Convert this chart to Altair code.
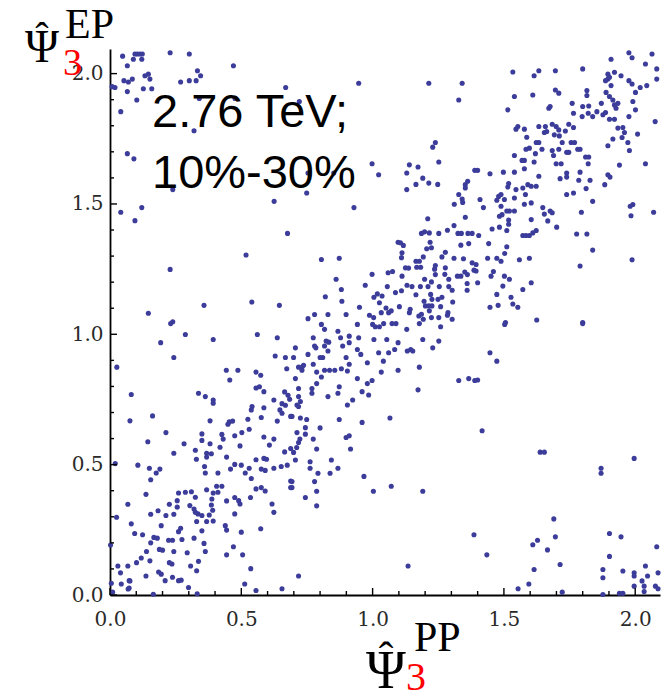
import altair as alt
import pandas as pd

# Values (Psi3 PP on x, Psi3 EP on y)
top_left = [
    (0.048, 2.067), (0.066, 2.030), (0.095, 2.075), (0.104, 2.075), (0.114, 2.075), (0.123, 2.075),
    (0.089, 2.055), (0.121, 2.055), (0.229, 2.080), (0.302, 2.075), (0.470, 2.030), (0.333, 2.011),
    (0.345, 1.992), (0.328, 1.973), (0.302, 1.973), (0.269, 1.968), (0.053, 1.973), (0.070, 1.968),
    (0.085, 1.979), (0.133, 1.992), (0.146, 1.998), (0.152, 1.979), (0.019, 1.947), (0.066, 1.931),
    (0.127, 1.942), (0.159, 1.942), (0.102, 1.899), (0.340, 1.905), (0.476, 1.905), (0.669, 1.947),
    (0.041, 1.854), (0.320, 1.781), (0.066, 1.693), (0.091, 1.673), (0.239, 1.555), (0.625, 1.510),
    (0.041, 1.468), (0.121, 1.486), (0.095, 1.436), (0.676, 1.387), (0.518, 1.304), (0.229, 1.249),
    (0.358, 1.111), (0.540, 1.124), (0.645, 1.111), (0.146, 1.081), (0.239, 1.048), (0.008, 1.950),
]

top_mid = [
    (0.947, 1.963), (1.214, 1.963), (1.341, 1.963), (1.328, 1.899), (0.721, 1.893), (1.239, 1.736),
    (1.229, 1.718), (1.252, 1.661), (0.998, 1.654), (1.023, 1.612), (1.140, 1.650), (1.173, 1.642),
    (1.130, 1.619), (1.191, 1.599), (1.165, 1.575), (1.214, 1.580), (1.248, 1.575), (1.130, 1.555),
    (0.754, 1.619), (0.852, 1.619), (0.749, 1.542), (0.929, 1.486), (1.362, 1.587), (1.353, 1.574),
    (1.353, 1.561), (1.328, 1.536), (1.341, 1.519), (1.343, 1.506), (1.311, 1.499), (1.389, 1.629),
    (1.210, 1.443), (1.353, 1.449), (1.310, 1.417), (1.285, 1.399), (1.252, 1.387), (1.216, 1.389),
    (1.198, 1.393), (1.186, 1.387), (1.325, 1.387), (1.338, 1.387), (1.363, 1.387), (1.379, 1.387),
    (1.097, 1.353), (1.106, 1.351), (1.117, 1.341), (1.219, 1.353), (1.336, 1.342), (1.366, 1.348),
    (0.805, 1.287), (0.873, 1.292), (1.112, 1.313), (1.110, 1.294), (1.206, 1.328), (1.224, 1.332),
    (1.193, 1.297), (1.165, 1.280), (1.178, 1.280), (1.277, 1.315), (1.264, 1.297), (1.310, 1.292),
    (1.346, 1.290), (1.379, 1.274), (0.861, 1.211), (0.998, 1.230), (1.059, 1.236), (1.076, 1.241),
    (1.112, 1.223), (1.125, 1.255), (1.137, 1.254), (1.168, 1.257), (1.183, 1.257), (1.198, 1.211),
    (1.239, 1.264), (1.239, 1.229), (1.236, 1.250), (1.277, 1.255), (1.275, 1.230), (1.290, 1.211),
    (1.323, 1.223), (1.336, 1.223), (1.351, 1.239), (1.361, 1.229), (1.386, 1.246), (0.972, 1.188),
    (0.881, 1.172), (1.056, 1.183), (1.087, 1.160), (1.110, 1.167), (1.131, 1.188), (1.150, 1.183),
    (1.165, 1.152), (1.182, 1.183), (1.211, 1.183), (1.224, 1.201), (1.221, 1.153), (1.254, 1.183),
    (1.264, 1.142), (1.290, 1.183), (1.303, 1.169), (1.360, 1.195), (1.360, 1.169), (0.820, 1.144),
    (0.883, 1.127), (0.950, 1.104), (1.005, 1.142), (1.018, 1.155), (1.036, 1.147), (1.026, 1.121),
    (1.051, 1.101), (1.033, 1.083), (1.061, 1.083), (1.071, 1.090), (1.102, 1.106), (1.143, 1.096),
    (1.140, 1.083), (1.196, 1.127), (1.201, 1.109), (1.214, 1.109), (1.226, 1.109), (1.216, 1.090),
    (1.226, 1.134), (1.249, 1.134), (1.259, 1.106), (1.305, 1.124), (1.287, 1.083), (0.754, 1.060),
    (0.779, 1.076), (0.830, 1.076), (0.899, 1.076), (0.988, 1.073), (1.004, 1.064), (1.176, 1.070),
    (1.186, 1.077), (1.193, 1.058), (1.224, 1.064), (1.252, 1.064), (1.285, 1.073), (1.303, 1.058),
]

top_right = [
    (1.976, 2.080), (1.988, 2.061), (2.064, 2.075), (1.908, 2.055), (2.039, 2.037), (2.082, 2.018),
    (2.082, 1.979), (1.534, 2.006), (1.633, 2.011), (1.615, 1.992), (1.696, 2.011), (1.800, 2.018),
    (1.896, 1.998), (1.896, 1.979), (1.887, 1.973), (1.902, 1.986), (1.921, 2.005), (1.946, 1.992),
    (1.908, 1.954), (1.976, 1.973), (1.988, 1.960), (2.019, 1.947), (2.044, 1.954), (2.001, 1.928),
    (1.540, 1.912), (1.610, 1.918), (1.696, 1.937), (1.709, 1.925), (1.816, 1.935), (1.816, 1.916),
    (1.889, 1.928), (1.902, 1.912), (1.915, 1.899), (1.921, 1.880), (1.934, 1.886), (1.927, 1.867),
    (1.991, 1.893), (2.001, 1.861), (1.976, 1.835), (1.515, 1.861), (1.671, 1.867), (1.676, 1.874),
    (1.760, 1.886), (1.765, 1.848), (1.800, 1.874), (1.798, 1.835), (1.823, 1.876), (1.821, 1.848),
    (1.838, 1.835), (1.854, 1.854), (1.871, 1.886), (1.877, 1.842), (1.887, 1.851), (1.902, 1.825),
    (1.921, 1.825), (2.076, 1.816), (1.546, 1.787), (1.553, 1.797), (1.578, 1.787), (1.633, 1.797),
    (1.658, 1.797), (1.663, 1.778), (1.654, 1.774), (1.684, 1.806), (1.699, 1.797), (1.709, 1.784),
    (1.692, 1.765), (1.711, 1.761), (1.734, 1.780), (1.747, 1.806), (1.765, 1.793), (1.587, 1.756),
    (1.623, 1.736), (1.633, 1.736), (1.597, 1.714), (1.584, 1.710), (1.645, 1.710), (1.620, 1.693),
    (1.684, 1.705), (1.689, 1.686), (1.709, 1.710), (1.722, 1.736), (1.739, 1.698), (1.747, 1.698),
    (1.756, 1.736), (1.769, 1.736), (1.781, 1.710), (1.790, 1.710), (1.540, 1.686), (1.569, 1.667),
    (1.578, 1.667), (1.615, 1.661), (1.699, 1.654), (1.718, 1.654), (1.811, 1.680), (1.823, 1.680),
    (1.821, 1.654), (1.934, 1.791), (1.953, 1.793), (1.959, 1.774), (1.950, 1.755), (1.972, 1.736),
    (1.978, 1.705), (2.009, 1.768), (1.915, 1.749), (1.896, 1.723), (1.940, 1.649), (2.039, 1.654),
    (1.400, 1.629), (1.447, 1.616), (1.498, 1.622), (1.540, 1.622), (1.578, 1.635), (1.633, 1.606),
    (1.714, 1.597), (1.739, 1.619), (1.739, 1.603), (1.790, 1.622), (1.785, 1.591), (1.828, 1.591),
    (1.813, 1.559), (1.896, 1.612), (1.904, 1.603), (1.884, 1.574), (1.739, 1.536), (1.765, 1.542),
    (1.838, 1.510), (1.518, 1.578), (1.515, 1.565), (1.546, 1.555), (1.572, 1.561), (1.591, 1.574),
    (1.604, 1.568), (1.623, 1.568), (1.489, 1.536), (1.480, 1.529), (1.473, 1.514), (1.502, 1.517),
    (1.540, 1.523), (1.582, 1.536), (1.409, 1.517), (1.422, 1.486), (1.489, 1.491), (1.493, 1.459),
    (1.483, 1.453), (1.511, 1.473), (1.521, 1.473), (1.540, 1.473), (1.578, 1.499), (1.604, 1.504),
    (1.648, 1.486), (1.654, 1.461), (1.676, 1.473), (1.684, 1.466), (1.604, 1.440), (1.667, 1.435),
    (1.518, 1.438), (1.518, 1.422), (1.483, 1.411), (1.455, 1.404), (1.511, 1.398), (1.701, 1.411),
    (1.623, 1.398), (1.610, 1.389), (1.572, 1.379), (1.584, 1.379), (1.597, 1.379), (1.404, 1.379),
    (1.777, 1.385), (1.816, 1.385), (1.795, 1.468), (1.981, 1.491), (1.991, 1.498), (1.984, 1.455),
    (2.070, 1.468), (1.442, 1.348), (1.511, 1.336), (1.503, 1.310), (1.438, 1.292), (1.473, 1.292),
    (1.489, 1.280), (1.559, 1.286), (1.597, 1.292), (1.838, 1.323), (1.988, 1.286), (1.790, 1.262),
    (1.394, 1.268), (1.394, 1.243), (1.460, 1.241), (1.451, 1.223), (1.502, 1.223), (1.521, 1.211),
    (1.496, 1.185), (1.400, 1.198), (1.572, 1.172), (1.604, 1.198), (1.473, 1.153), (1.527, 1.142),
    (1.534, 1.116), (1.553, 1.104), (1.478, 1.111), (1.447, 1.104), (1.625, 1.055), (1.800, 1.045),
    (1.506, 1.045),
]

bottom_left = [
    (0.231, 1.041), (0.287, 0.999), (0.193, 0.968), (0.393, 0.980), (0.561, 0.999), (0.637, 0.987),
    (0.243, 0.911), (0.629, 0.917), (0.668, 0.911), (0.026, 0.874), (0.673, 0.868), (0.443, 0.862),
    (0.456, 0.825), (0.487, 0.862), (0.556, 0.855), (0.574, 0.843), (0.081, 0.769), (0.337, 0.774),
    (0.363, 0.761), (0.393, 0.748), (0.393, 0.736), (0.556, 0.794), (0.569, 0.799), (0.586, 0.780),
    (0.624, 0.748), (0.665, 0.779), (0.678, 0.766), (0.684, 0.751), (0.655, 0.734), (0.668, 0.728),
    (0.162, 0.687), (0.076, 0.668), (0.381, 0.668), (0.454, 0.664), (0.467, 0.667), (0.449, 0.655),
    (0.525, 0.674), (0.541, 0.723), (0.538, 0.710), (0.576, 0.681), (0.586, 0.718), (0.647, 0.710),
    (0.655, 0.697), (0.637, 0.667), (0.688, 0.685), (0.213, 0.623), (0.144, 0.588), (0.282, 0.580),
    (0.243, 0.544), (0.350, 0.618), (0.350, 0.593), (0.325, 0.555), (0.329, 0.521), (0.368, 0.544),
    (0.368, 0.529), (0.386, 0.542), (0.381, 0.580), (0.419, 0.567), (0.426, 0.616), (0.431, 0.598),
    (0.444, 0.529), (0.475, 0.611), (0.495, 0.572), (0.502, 0.623), (0.530, 0.636), (0.586, 0.606),
    (0.624, 0.598), (0.607, 0.575), (0.665, 0.549), (0.688, 0.562), (0.020, 0.504), (0.106, 0.498),
    (0.150, 0.486), (0.190, 0.483), (0.176, 0.468), (0.155, 0.442), (0.360, 0.493), (0.363, 0.468),
    (0.411, 0.468), (0.459, 0.483), (0.475, 0.501), (0.500, 0.498), (0.515, 0.468), (0.530, 0.486),
    (0.538, 0.447), (0.556, 0.519), (0.576, 0.483), (0.586, 0.524), (0.596, 0.521), (0.591, 0.478),
    (0.624, 0.486), (0.652, 0.493), (0.675, 0.498), (0.688, 0.437), (0.137, 0.386), (0.261, 0.391),
    (0.287, 0.394), (0.310, 0.396), (0.325, 0.375), (0.368, 0.404), (0.393, 0.391), (0.406, 0.417),
    (0.426, 0.417), (0.411, 0.394), (0.388, 0.368), (0.444, 0.361), (0.475, 0.374), (0.490, 0.362),
    (0.495, 0.349), (0.535, 0.374), (0.556, 0.407), (0.576, 0.412), (0.591, 0.399), (0.617, 0.349),
    (0.688, 0.412), (0.068, 0.348), (0.025, 0.298), (0.081, 0.273), (0.094, 0.236), (0.124, 0.231),
    (0.155, 0.310), (0.183, 0.323), (0.195, 0.266), (0.213, 0.305), (0.226, 0.348), (0.243, 0.310),
    (0.256, 0.362), (0.256, 0.337), (0.304, 0.343), (0.320, 0.330), (0.325, 0.317), (0.335, 0.311),
    (0.350, 0.305), (0.330, 0.282), (0.350, 0.246), (0.368, 0.282), (0.378, 0.307), (0.386, 0.345),
    (0.391, 0.325), (0.393, 0.284), (0.439, 0.266), (0.444, 0.249), (0.475, 0.311), (0.500, 0.241),
    (0.574, 0.254), (0.624, 0.317), (0.002, 0.192), (0.030, 0.111), (0.040, 0.085), (0.043, 0.042),
    (0.068, 0.111), (0.073, 0.055), (0.073, 0.027), (0.101, 0.124), (0.119, 0.142), (0.137, 0.073),
    (0.139, 0.167), (0.152, 0.131), (0.155, 0.200), (0.167, 0.221), (0.180, 0.218), (0.188, 0.175),
    (0.200, 0.172), (0.185, 0.088), (0.195, 0.080), (0.210, 0.055), (0.223, 0.210), (0.238, 0.210),
    (0.226, 0.124), (0.236, 0.119), (0.243, 0.167), (0.238, 0.068), (0.261, 0.243), (0.269, 0.256),
    (0.274, 0.213), (0.261, 0.055), (0.271, 0.057), (0.294, 0.162), (0.307, 0.111), (0.299, 0.029),
    (0.320, 0.218), (0.330, 0.093), (0.337, 0.129), (0.358, 0.198), (0.363, 0.167), (0.444, 0.154),
    (0.470, 0.185), (0.505, 0.154), (0.536, 0.101), (0.513, 0.042), (0.556, 0.017), (0.655, 0.024),
    (0.165, 0.003), (0.332, 0.005), (0.005, 0.045), (0.010, 0.011), (0.069, 0.023), (0.076, 0.054),
]

bottom_mid = [
    (0.805, 1.038), (0.817, 1.019), (0.868, 1.012), (0.942, 1.038), (1.000, 1.038), (1.010, 1.029),
    (1.026, 1.029), (1.042, 1.041), (1.074, 1.041), (1.089, 1.041), (1.130, 1.019), (1.178, 1.041),
    (1.259, 1.029), (0.774, 0.987), (0.706, 0.948), (0.779, 0.955), (0.784, 0.948), (0.817, 0.955),
    (0.823, 0.974), (0.833, 0.970), (0.830, 0.936), (0.886, 0.955), (0.878, 0.987), (0.911, 0.993),
    (0.911, 0.968), (0.947, 0.987), (0.942, 0.942), (0.955, 0.923), (1.005, 0.980), (1.054, 0.980),
    (1.097, 0.968), (1.023, 0.929), (1.061, 0.929), (1.084, 0.942), (1.132, 0.936), (1.145, 0.942),
    (1.153, 0.936), (1.191, 0.980), (1.229, 0.948), (1.252, 0.974), (0.699, 0.911), (0.754, 0.923),
    (0.810, 0.911), (0.800, 0.911), (0.899, 0.911), (0.980, 0.891), (1.041, 0.897), (0.718, 0.874),
    (0.731, 0.874), (0.737, 0.881), (0.731, 0.862), (0.774, 0.885), (0.787, 0.855), (0.817, 0.862),
    (0.836, 0.862), (0.856, 0.862), (0.881, 0.868), (0.904, 0.859), (0.911, 0.885), (1.033, 0.855),
    (1.097, 0.862), (1.178, 0.874), (0.706, 0.830), (0.805, 0.836), (0.787, 0.811), (0.942, 0.830),
    (0.980, 0.811), (0.998, 0.823), (0.769, 0.792), (0.769, 0.774), (0.718, 0.792), (0.718, 0.761),
    (0.725, 0.742), (0.712, 0.729), (0.718, 0.723), (0.830, 0.761), (0.868, 0.774), (0.873, 0.799),
    (0.960, 0.780), (0.985, 0.767), (0.924, 0.748), (0.904, 0.729), (1.173, 0.787), (1.328, 0.823),
    (1.366, 0.830), (1.389, 0.823), (0.693, 0.685), (0.725, 0.679), (0.749, 0.673), (0.873, 0.673),
    (0.960, 0.662), (1.066, 0.679), (0.744, 0.642), (0.800, 0.641), (0.712, 0.623), (0.744, 0.617),
    (0.723, 0.598), (0.718, 0.585), (0.711, 0.566), (0.699, 0.547), (0.774, 0.598), (0.787, 0.560),
    (0.899, 0.604), (0.911, 0.611), (0.916, 0.560), (0.706, 0.518), (0.762, 0.511), (0.762, 0.486),
    (0.843, 0.518), (0.792, 0.467), (0.838, 0.467), (0.868, 0.486), (0.967, 0.455), (0.693, 0.435),
    (0.693, 0.412), (0.779, 0.435), (0.787, 0.398), (1.003, 0.398), (1.071, 0.417), (1.191, 0.398),
    (0.744, 0.374), (0.787, 0.342), (1.386, 0.231), (1.135, 0.111), (0.718, 0.073),
]

bottom_right = [
    (1.503, 1.038), (1.800, 1.041), (1.447, 0.929), (1.473, 0.897), (1.400, 0.825), (1.417, 0.630),
    (1.638, 0.548), (1.654, 0.548), (1.996, 0.524), (1.870, 0.486), (1.870, 0.467), (1.435, 0.154),
    (1.690, 0.292), (1.696, 0.223), (1.902, 0.236), (1.946, 0.223), (2.082, 0.185), (1.610, 0.193),
    (1.628, 0.210), (1.666, 0.173), (1.615, 0.098), (1.714, 0.117), (1.877, 0.098), (1.877, 0.066),
    (1.902, 0.148), (1.953, 0.092), (1.996, 0.085), (1.996, 0.073), (2.039, 0.111), (2.047, 0.073),
    (2.026, 0.054), (1.996, 0.034), (2.034, 0.034), (2.087, 0.085), (2.077, 0.034), (2.087, 0.024),
    (1.595, 0.042), (1.554, 0.024), (1.722, 0.011), (1.877, 0.002), (1.940, 0.007), (1.953, 0.007),
    (2.034, 0.013),
]

major_ticks = [0.0, 0.5, 1.0, 1.5, 2.0]
minor_ticks = [0.1, 0.2, 0.3, 0.4, 0.6, 0.7, 0.8, 0.9, 1.1, 1.2, 1.3, 1.4, 1.6, 1.7, 1.8, 1.9]
axis_max = 2.0944

points = top_left + top_mid + top_right + bottom_left + bottom_mid + bottom_right
df = pd.DataFrame(points, columns=["pp", "ep"])

W, H = 550, 546
xs = alt.Scale(domain=[0, axis_max], nice=False, zero=False)
ys = alt.Scale(domain=[0, axis_max], nice=False, zero=False)

axis_common = dict(
    values=major_ticks, format=".1f", ticks=False, grid=False, title=None,
    domainColor="black", domainWidth=1.8, labelFont="DejaVu Serif",
    labelFontSize=20, labelColor="#2a2a2a", labelFlush=False, labelOverlap=False,
)
x_axis = alt.Axis(labelPadding=14, **axis_common)
y_axis = alt.Axis(labelPadding=7, **axis_common)

scatter = alt.Chart(df).mark_circle(size=26, color="#3c3c9a", opacity=1).encode(
    x=alt.X("pp:Q", scale=xs, axis=x_axis),
    y=alt.Y("ep:Q", scale=ys, axis=y_axis),
)

maj_df = pd.DataFrame({"pp": major_ticks, "ep": major_ticks})
min_df = pd.DataFrame({"pp": minor_ticks, "ep": minor_ticks})

def xticks(d, ln):
    return alt.Chart(d).mark_rule(color="black", strokeWidth=1.4).encode(
        x=alt.X("pp:Q", scale=xs, axis=x_axis), y=alt.value(H), y2=alt.value(H - ln))

def yticks(d, ln):
    return alt.Chart(d).mark_rule(color="black", strokeWidth=1.4).encode(
        y=alt.Y("ep:Q", scale=ys, axis=y_axis), x=alt.value(0), x2=alt.value(ln))

one = pd.DataFrame({"k": [0]})

def label(txt, x, y, size, font="Liberation Serif", color="black", align="left"):
    return alt.Chart(one).mark_text(
        text=txt, font=font, fontSize=size, color=color, align=align, baseline="alphabetic"
    ).encode(x=alt.value(x), y=alt.value(y))

hat = "\u02c6"

texts = [
    # y-axis title (top-left)
    label("Ψ", -68, 13, 46, align="center"),
    label(hat, -68, 1, 40, align="center"),
    label("EP", -45, -11, 42),
    label("3", -47, 26, 38, color="#ff0000"),
    # x-axis title (bottom)
    label("Ψ", 276, 639, 54, align="center"),
    label(hat, 276, 623, 44, align="center"),
    label("PP", 304, 602, 42),
    label("3", 296, 641, 40, color="#ff0000"),
    # annotation
    label("2.76 TeV;", 42, 78, 47, font="Liberation Sans"),
    label("10%-30%", 42, 139, 47, font="Liberation Sans"),
]

chart = alt.layer(
    scatter,
    xticks(maj_df, 7), xticks(min_df, 4),
    yticks(maj_df, 7), yticks(min_df, 4),
    *texts,
).properties(
    width=W, height=H,
    autosize=alt.AutoSizeParams(type="none"),
    padding={"left": 110, "top": 49, "right": 10, "bottom": 103},
).configure_view(stroke=None)

chart.save("out.html", embed_options={"renderer": "svg", "actions": False})
